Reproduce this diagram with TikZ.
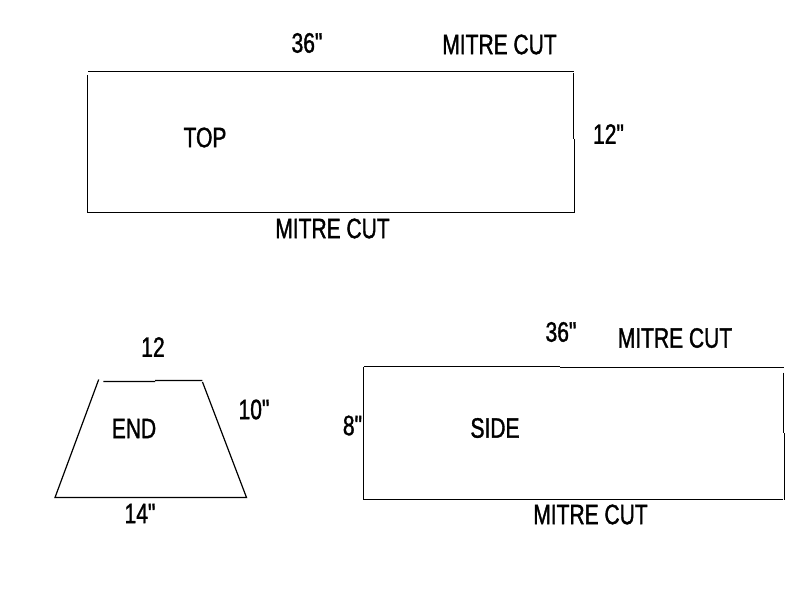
\documentclass[tikz,border=0pt]{standalone}
\usepackage{fontspec}
\newfontfamily\lblfont[FakeStretch=0.75,FakeBold=1.3]{Liberation Sans}
\tikzset{lbl/.style={inner sep=0pt,font=\lblfont\fontsize{21}{23}\selectfont,text=black},ln/.style={draw=black,line width=0.9pt}}
\begin{document}
\begin{tikzpicture}[x=1pt,y=-1pt,scale=0.75]
\useasboundingbox (0,0) rectangle (800,600);
\fill[white] (0,0) rectangle (800,600);
\coordinate (a0) at (88,71.5);\coordinate (a1) at (87.5,75);\coordinate (a2) at (574,71.5);\coordinate (a2a) at (573.5,73);\coordinate (a2b) at (573.5,138.5);\coordinate (a3b) at (574.5,138.5);\coordinate (a3) at (574.5,212.5);\coordinate (a4) at (87.5,212.5);
\draw[ln] (a0)--(a2) (a2a)--(a2b) (a3b)--(a3)--(a4)--(a1);
\coordinate (b1) at (98.7,379.5);\coordinate (b1b) at (103.3,381.5);\coordinate (bm1) at (155,381.5);\coordinate (bm2) at (155,380.5);\coordinate (b2) at (202.3,380.5);\coordinate (b2b) at (202.5,382);\coordinate (b3) at (246.5,497.5);\coordinate (b4) at (55,497.5);
\draw[ln] (b1)--(b4)--(b3)--(b2b) (b1b)--(bm1) (bm2)--(b2);
\coordinate (c1) at (363.5,366.5);\coordinate (cm1) at (560,366.5);\coordinate (cm2) at (560,367.5);\coordinate (c2) at (784,367.5);\coordinate (c2a) at (783.5,372.7);\coordinate (c2b) at (783.5,433.3);\coordinate (c3b) at (784.5,433.3);\coordinate (c3) at (784.5,500);\coordinate (c3a) at (783,499.5);\coordinate (c4) at (363.5,499.5);
\draw[ln] (c1)--(cm1) (cm2)--(c2) (c2a)--(c2b) (c3b)--(c3) (c3a)--(c4)--(c1);
\node[lbl] (t1) at (307,43) {36"};
\node[lbl] (t2) at (499.5,44.5) {MITRE CUT};
\node[lbl] (t3) at (205,137.5) {TOP};
\node[lbl] (t4) at (608.5,134) {12"};
\node[lbl] (t5) at (332.5,228.5) {MITRE CUT};
\node[lbl] (t6) at (561,332) {36"};
\node[lbl] (t7) at (675,338) {MITRE CUT};
\node[lbl] (t8) at (153,347) {12};
\node[lbl] (t9) at (254,409.5) {10"};
\node[lbl] (t10) at (134,428.5) {END};
\node[lbl] (t11) at (352.5,425.5) {8"};
\node[lbl] (t12) at (495,428) {SIDE};
\node[lbl] (t13) at (140,513.5) {14"};
\node[lbl] (t14) at (590.5,514.5) {MITRE CUT};
\end{tikzpicture}
\end{document}
